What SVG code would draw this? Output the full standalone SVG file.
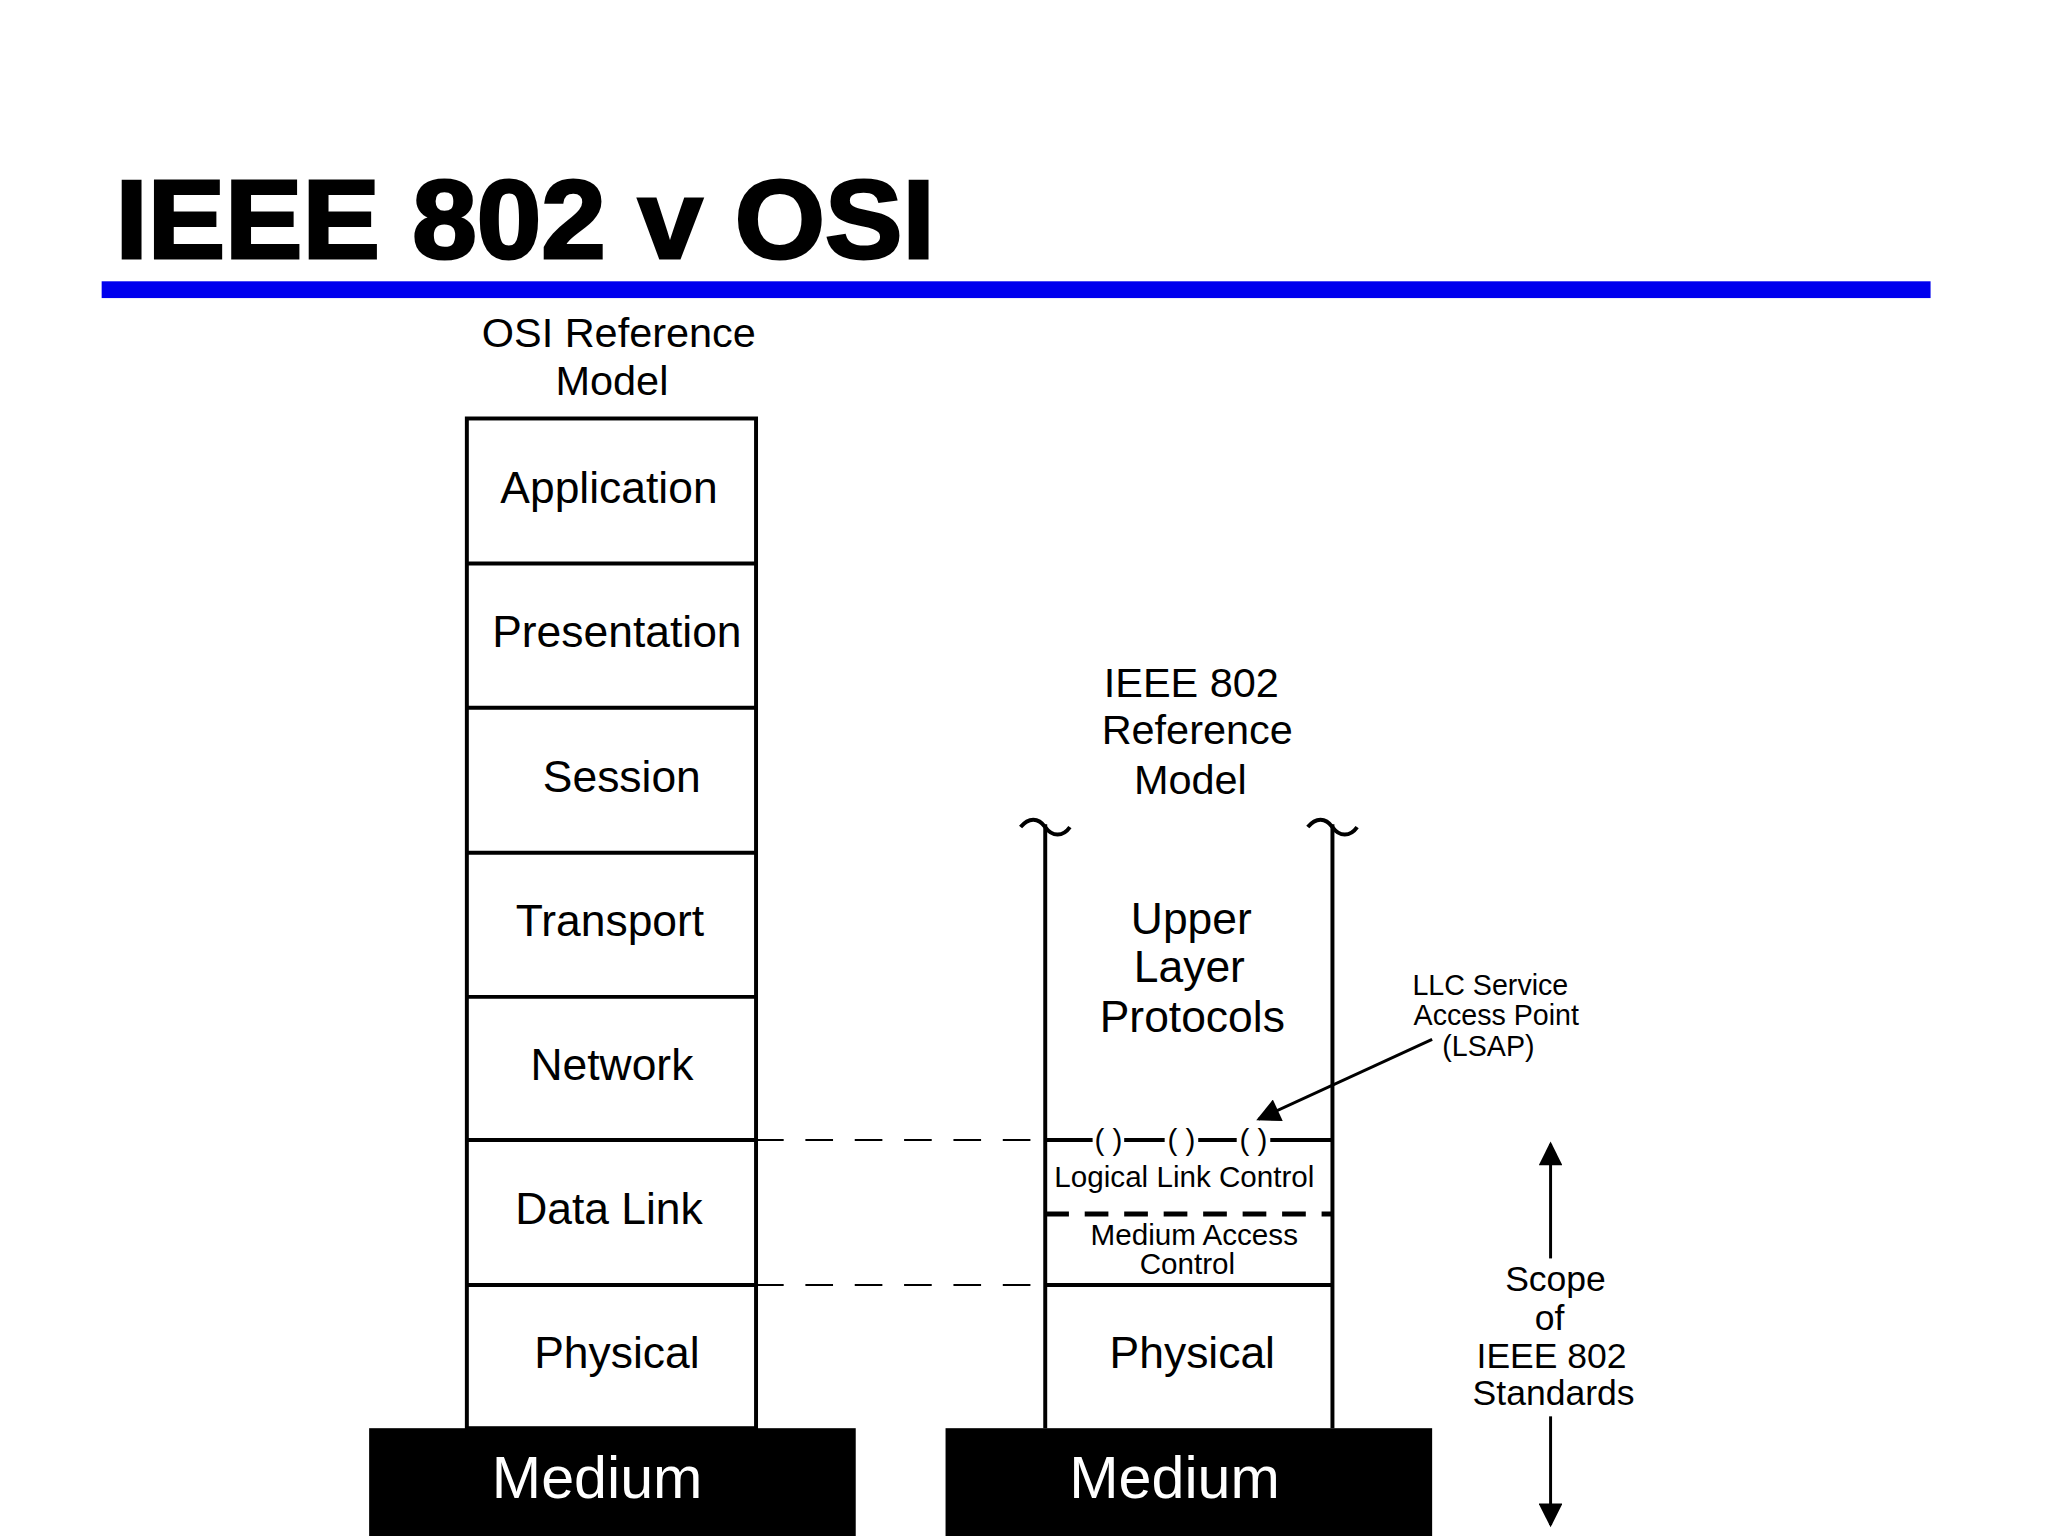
<svg xmlns="http://www.w3.org/2000/svg" width="2048" height="1536" viewBox="0 0 2048 1536">
<style>
text{font-family:"Liberation Sans",Arial,sans-serif;fill:#000}
.l{font-size:45px;text-anchor:middle}
.m{font-size:42px;text-anchor:middle}
.s{font-size:30px;text-anchor:middle}
.box{fill:#fff;stroke:#000;stroke-width:4}
.ln{stroke:#000;stroke-width:4;fill:none}
.dash{stroke:#000;stroke-width:2;stroke-dasharray:28 22;fill:none}
.med{fill:#000}
.mt{font-size:60px;text-anchor:middle;fill:#fff}
</style>
<defs>
<marker id="ah2" viewBox="0 0 10 10" refX="9" refY="5" markerWidth="10" markerHeight="8" orient="auto"><path d="M0,0L10,5L0,10z"/></marker>
</defs>
<rect width="2048" height="1536" fill="#fff"/>
<g transform="scale(0.987)">
<text x="117" y="261" font-size="112" font-weight="bold" textLength="830" lengthAdjust="spacingAndGlyphs" stroke="#000" stroke-width="3">IEEE 802 v OSI</text>
<rect x="103" y="285" width="1853" height="17" fill="#0000ee"/>
<text class="m" x="627" y="352">OSI Reference</text>
<text class="m" x="620" y="400">Model</text>
<g id="osi">
<rect class="box" x="473" y="424" width="293" height="1023"/>
<path class="ln" d="M473,571H766M473,717H766M473,864H766M473,1010H766M473,1155H766M473,1302H766"/>
<text class="l" x="617" y="510">Application</text>
<text class="l" x="625" y="656">Presentation</text>
<text class="l" x="630" y="802">Session</text>
<text class="l" x="618" y="948">Transport</text>
<text class="l" x="620" y="1094">Network</text>
<text class="l" x="617" y="1240">Data Link</text>
<text class="l" x="625" y="1386">Physical</text>
</g>
<g id="medium1"><rect class="med" x="374" y="1447" width="493" height="110"/><text class="mt" x="605" y="1518">Medium</text></g>
<g id="medium2"><rect class="med" x="958" y="1447" width="493" height="110"/><text class="mt" x="1190" y="1518">Medium</text></g>
<g id="ieee">
<text class="m" x="1207" y="706">IEEE 802</text>
<text class="m" x="1213" y="754">Reference</text>
<text class="m" x="1206" y="804">Model</text>
<path class="ln" d="M1059,835V1447M1350,835V1447"/>
<path class="ln" d="M1034,838c8,-10 18,-10 25,0s18,10 25,0M1325,838c8,-10 18,-10 25,0s18,10 25,0"/>
<text class="l" x="1207" y="946">Upper</text>
<text class="l" x="1205" y="995">Layer</text>
<text class="l" x="1208" y="1046">Protocols</text>
<path class="ln" d="M1059,1155H1107M1139,1155H1180M1214,1155H1253M1287,1155H1350"/>
<text class="s" x="1123" y="1165">(   )</text><text class="s" x="1197" y="1165">(   )</text><text class="s" x="1270" y="1165">(   )</text>
<text class="s" x="1200" y="1203">Logical Link Control</text>
<path d="M1059,1230H1350" stroke="#000" stroke-width="5" stroke-dasharray="24 16"/>
<text class="s" x="1210" y="1261">Medium Access</text>
<text class="s" x="1203" y="1291">Control</text>
<path class="ln" d="M1059,1302H1350"/>
<text class="l" x="1208" y="1386">Physical</text>
</g>
<g id="lsap">
<text x="1510" y="1008" text-anchor="middle" style="font-size:29px">LLC Service</text>
<text x="1516" y="1039" text-anchor="middle" style="font-size:29px">Access Point</text>
<text x="1508" y="1070" text-anchor="middle" style="font-size:29px">(LSAP)</text>
</g>
<g id="scope">
<text class="s" x="1576" y="1308" style="font-size:36px">Scope</text>
<text class="s" x="1570" y="1348" style="font-size:36px">of</text>
<text class="s" x="1572" y="1386" style="font-size:36px">IEEE 802</text>
<text class="s" x="1574" y="1424" style="font-size:36px">Standards</text>
</g>
<g id="connectors">
<path class="dash" d="M766,1155H1059M766,1302H1059"/>
<line x1="1451" y1="1053" x2="1275" y2="1134" stroke="#000" stroke-width="3" marker-end="url(#ah2)"/>
<line x1="1571" y1="1275" x2="1571" y2="1159" stroke="#000" stroke-width="3" marker-end="url(#ah2)"/>
<line x1="1571" y1="1435" x2="1571" y2="1545" stroke="#000" stroke-width="3" marker-end="url(#ah2)"/>
</g>
</g>
</svg>
